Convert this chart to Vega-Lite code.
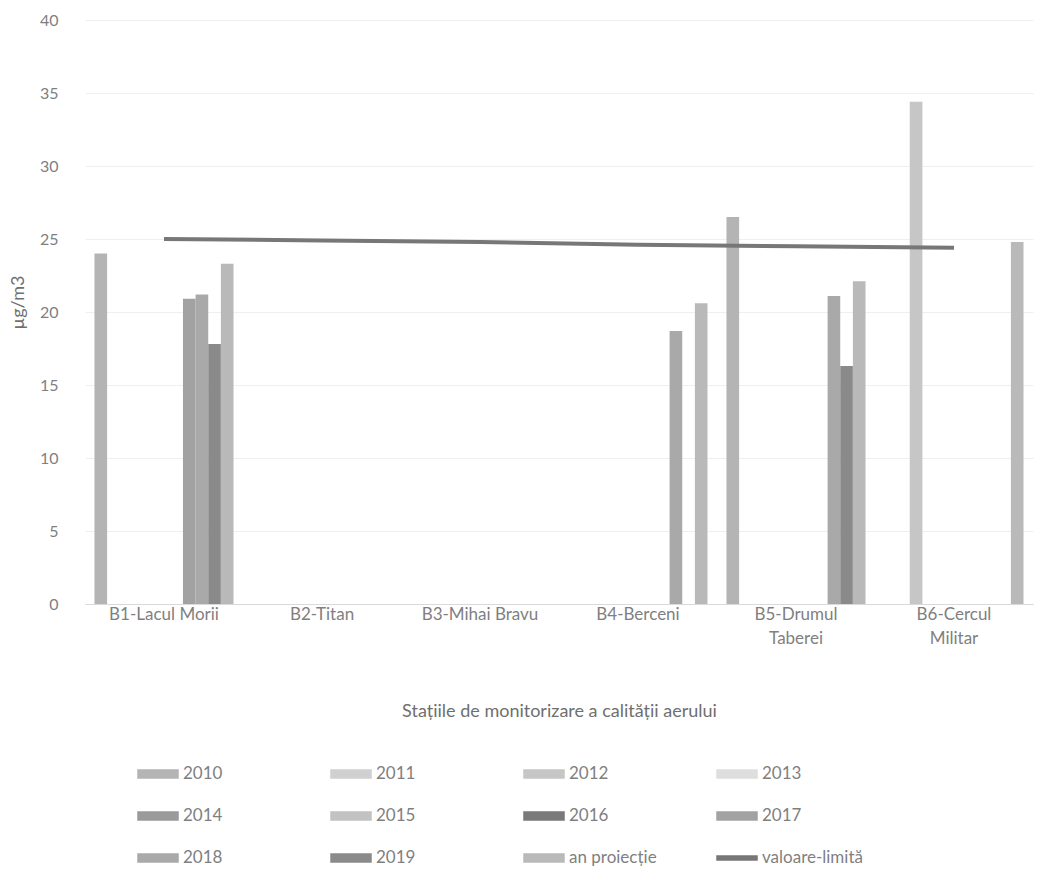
{
  "$schema": "https://vega.github.io/schema/vega-lite/v6.json",
  "width": 948,
  "height": 584,
  "autosize": {"type": "none"},
  "padding": {"left": 85, "top": 20, "right": 20, "bottom": 272},
  "background": "white",
  "config": {
    "font": "Lato",
    "view": {"stroke": null},
    "axis": {"labelFont": "Lato", "titleFont": "Lato", "titleFontWeight": "normal"}
  },
  "datasets": {
    "bars": [
      {"statie": "B1-Lacul Morii", "serie": "2010", "valoare": 24.0},
      {"statie": "B1-Lacul Morii", "serie": "2017", "valoare": 20.9},
      {"statie": "B1-Lacul Morii", "serie": "2018", "valoare": 21.2},
      {"statie": "B1-Lacul Morii", "serie": "2019", "valoare": 17.8},
      {"statie": "B1-Lacul Morii", "serie": "an proiecție", "valoare": 23.3},
      {"statie": "B4-Berceni", "serie": "2018", "valoare": 18.7},
      {"statie": "B4-Berceni", "serie": "an proiecție", "valoare": 20.6},
      {"statie": "B5-Drumul Taberei", "serie": "2010", "valoare": 26.5},
      {"statie": "B5-Drumul Taberei", "serie": "2018", "valoare": 21.1},
      {"statie": "B5-Drumul Taberei", "serie": "2019", "valoare": 16.3},
      {"statie": "B5-Drumul Taberei", "serie": "an proiecție", "valoare": 22.1},
      {"statie": "B6-Cercul Militar", "serie": "2012", "valoare": 34.4},
      {"statie": "B6-Cercul Militar", "serie": "an proiecție", "valoare": 24.8}
    ],
    "limita": [
      {"statie": "B1-Lacul Morii", "serie": "valoare-limită", "valoare": 25.0},
      {"statie": "B2-Titan", "serie": "valoare-limită", "valoare": 24.9},
      {"statie": "B3-Mihai Bravu", "serie": "valoare-limită", "valoare": 24.8},
      {"statie": "B4-Berceni", "serie": "valoare-limită", "valoare": 24.6},
      {"statie": "B5-Drumul Taberei", "serie": "valoare-limită", "valoare": 24.5},
      {"statie": "B6-Cercul Militar", "serie": "valoare-limită", "valoare": 24.4}
    ]
  },
  "layer": [
    {
      "data": {"name": "bars"},
      "mark": {"type": "bar"},
      "encoding": {
        "x": {
          "field": "statie",
          "type": "nominal",
          "sort": null,
          "scale": {
            "domain": ["B1-Lacul Morii", "B2-Titan", "B3-Mihai Bravu", "B4-Berceni", "B5-Drumul Taberei", "B6-Cercul Militar"],
            "paddingInner": 0,
            "paddingOuter": 0
          },
          "title": "Stațiile de monitorizare a calității aerului",
          "axis": {
            "labelAngle": 0,
            "labelFontSize": 17,
            "labelColor": "#7f7f7f",
            "labelPadding": 2,
            "labelLineHeight": 24,
            "labelExpr": "indexof(['B5-Drumul Taberei', 'B6-Cercul Militar'], datum.value) >= 0 ? split(datum.value, ' ') : datum.value",
            "ticks": false,
            "domainColor": "#d9d9d9",
            "grid": false,
            "titleFontSize": 18,
            "titleColor": "#6f6f6f",
            "titlePadding": 56
          }
        },
        "xOffset": {
          "field": "serie",
          "type": "nominal",
          "scale": {
            "domain": ["2010", "2011", "2012", "2013", "2014", "2015", "2016", "2017", "2018", "2019", "an proiecție"],
            "paddingInner": 0,
            "paddingOuter": 0.75
          }
        },
        "y": {
          "field": "valoare",
          "type": "quantitative",
          "scale": {"domain": [0, 40]},
          "title": "µg/m3",
          "axis": {
            "values": [0, 5, 10, 15, 20, 25, 30, 35, 40],
            "labelFontSize": 16,
            "labelColor": "#7f7f7f",
            "labelPadding": 27,
            "ticks": false,
            "domain": false,
            "grid": true,
            "gridColor": "#efefef",
            "titleFontSize": 18,
            "titleColor": "#6f6f6f",
            "titleX": -58,
            "titleY": 282
          }
        },
        "color": {
          "field": "serie",
          "type": "nominal",
          "scale": {
            "domain": ["2010", "2011", "2012", "2013", "2014", "2015", "2016", "2017", "2018", "2019", "an proiecție", "valoare-limită"],
            "range": ["#b4b4b4", "#d0d0d0", "#c6c6c6", "#dedede", "#9a9a9a", "#c2c2c2", "#7a7a7a", "#a2a2a2", "#a9a9a9", "#8a8a8a", "#b9b9b9", "#777777"]
          },
          "legend": {
            "orient": "none",
            "legendX": 52,
            "legendY": 733,
            "direction": "horizontal",
            "columns": 4,
            "title": null,
            "gridAlign": "all",
            "columnPadding": 44,
            "rowPadding": 13,
            "symbolSize": 1600,
            "labelFontSize": 17,
            "labelColor": "#7f7f7f",
            "labelOffset": 4,
            "labelFont": "Lato",
            "encode": {
              "symbols": {
                "update": {
                  "shape": {"signal": "datum.value === 'valoare-limită' ? 'M-1,-0.1H1V0.1H-1Z' : 'M-1,-0.2H1V0.2H-1Z'"},
                  "fill": {"scale": "color", "field": "value"},
                  "stroke": {"value": "transparent"},
                  "opacity": {"value": 1}
                }
              }
            }
          }
        }
      }
    },
    {
      "data": {"name": "limita"},
      "mark": {"type": "line", "strokeWidth": 4},
      "encoding": {
        "x": {"field": "statie", "type": "nominal", "sort": null},
        "y": {"field": "valoare", "type": "quantitative"},
        "color": {"field": "serie", "type": "nominal"}
      }
    }
  ]
}
